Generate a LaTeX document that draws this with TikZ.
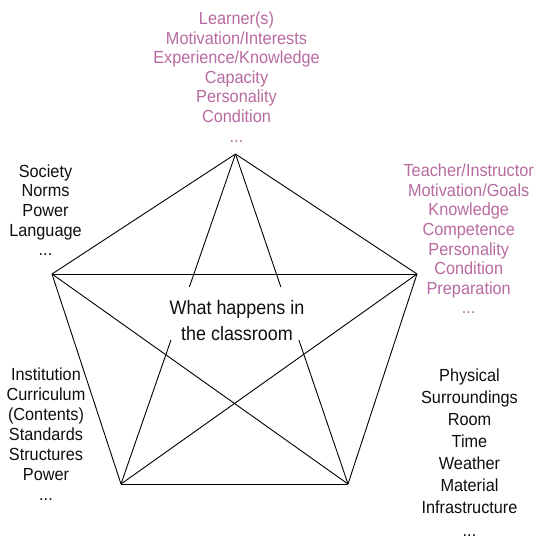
\documentclass[tikz,border=0pt]{standalone}
\usepackage{fontspec}
\setmainfont{Liberation Sans}
\newfontfamily\labelfont{Liberation Sans}[FakeStretch=0.93]
\newfontfamily\hubfont{Liberation Sans}[FakeStretch=0.92]
\definecolor{mauve}{RGB}{184,106,160}
\definecolor{ink}{RGB}{15,15,15}
\begin{document}
\begin{tikzpicture}[x=1pt,y=-1pt,
  edge/.style={draw=black,line width=0.9pt},
  factor/.style={anchor=base,align=center,inner sep=0pt,text=ink,
    font=\labelfont\fontsize{17.5}{19.6}\selectfont},
  person/.style={factor,text=mauve},
  hub/.style={anchor=base,align=center,inner sep=0pt,fill=white,text=ink,
    text height=53pt,text depth=0pt,font=\hubfont\fontsize{19.5}{25.7}\selectfont}]
\useasboundingbox (0,0) rectangle (537,539);

% corners of the pentagon
\coordinate (T)  at (235.5,154);
\coordinate (L)  at (52,274);
\coordinate (R)  at (417,274);
\coordinate (BL) at (121,484);
\coordinate (BR) at (348,484);

% every corner is joined to every other one
\draw[edge] (T) -- (L);
\draw[edge] (T) -- (R);
\draw[edge] (L) -- (R);
\draw[edge] (L) -- (BL);
\draw[edge] (R) -- (BR);
\draw[edge] (BL) -- (BR);
\draw[edge] (L) -- (BR);
\draw[edge] (R) -- (BL);
\draw[edge] (T) -- (BL);
\draw[edge] (T) -- (BR);

% the centre label sits on top of the two lines from the apex
% (nodes are placed by the baseline of their last line)
\node[hub] (class) at (237,340) {What happens in\\the classroom};

% factors at the corners
\node[person] (learner) at (236.5,142)
  {Learner(s)\\Motivation/Interests\\Experience/Knowledge\\Capacity\\Personality\\Condition\\...};
\node[person] (teacher) at (468.7,313.9)
  {Teacher/Instructor\\Motivation/Goals\\Knowledge\\Competence\\Personality\\Condition\\Preparation\\...};
\node[factor] (society) at (45.5,255.7)
  {Society\\Norms\\Power\\Language\\...};
\node[factor,font=\labelfont\fontsize{17.5}{20}\selectfont] (institution) at (46,500.7)
  {Institution\\Curriculum\\(Contents)\\Standards\\Structures\\Power\\...};
\node[factor,font=\labelfont\fontsize{17.5}{22.1}\selectfont] (physical) at (469.5,536)
  {Physical\\Surroundings\\Room\\Time\\Weather\\Material\\Infrastructure\\...};
\end{tikzpicture}
\end{document}
